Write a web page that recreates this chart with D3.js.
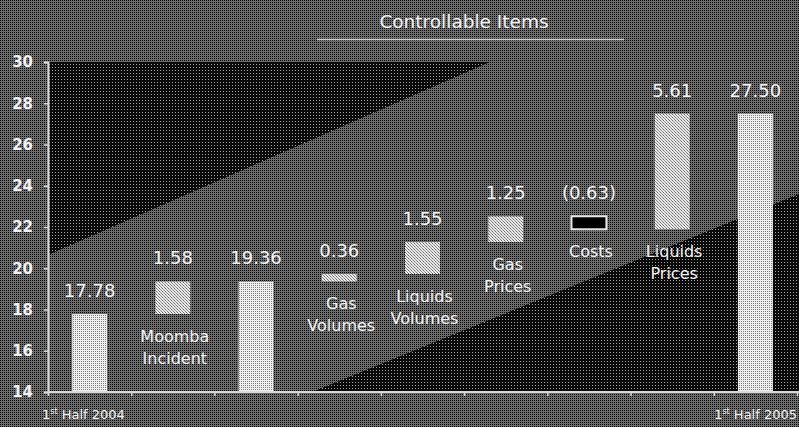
<!DOCTYPE html>
<html>
<head>
<meta charset="utf-8">
<script src="https://cdn.jsdelivr.net/npm/d3@7"></script>
<style>
  html, body { margin: 0; padding: 0; background: #505050; }
  svg { display: block; }
  text { font-family: "DejaVu Sans", Verdana, sans-serif; fill: #f2f2f2; }
</style>
</head>
<body>
<svg id="chart" width="799" height="427"></svg>
<script>
// ---- data ----
const categories = ["1st Half 2004", "Moomba Incident", "Subtotal", "Gas Volumes", "Liquids Volumes", "Gas Prices", "Costs", "Liquids Prices", "1st Half 2005"];
const values = [17.78, 1.58, 19.36, 0.36, 1.55, 1.25, -0.63, 5.61, 27.50];
const kinds = ["total", "delta", "total", "delta", "delta", "delta", "delta", "delta", "total"];
const valueLabels = ["17.78", "1.58", "19.36", "0.36", "1.55", "1.25", "(0.63)", "5.61", "27.50"];
const categoryLines = [[], ["Moomba", "Incident"], [], ["Gas", "Volumes"], ["Liquids", "Volumes"], ["Gas", "Prices"], ["Costs"], ["Liquids", "Prices"], []];
const yTicks = [14, 16, 18, 20, 22, 24, 26, 28, 30];
const title = "Controllable Items";
const startLabel = { main: "1", sup: "st", rest: " Half 2004" };
const endLabel = { main: "1", sup: "st", rest: " Half 2005" };

(function () {
// ---- waterfall computation ----
let running = 0;
const bars = values.map((v, i) => {
  let lo, hi;
  if (kinds[i] === "total") { lo = 14; hi = v; running = v; }
  else { const prev = running; running = +(running + v).toFixed(2); lo = Math.min(prev, running); hi = Math.max(prev, running); }
  return { cat: categories[i], v, lo, hi, kind: kinds[i], label: valueLabels[i], lines: categoryLines[i] };
});

const svg = d3.select("#chart");
const W = 799, H = 427;
const mLeft = 48, mRight = 797, mTop = 62, mBottom = 392;

// ---- patterns (dither look) ----
const defs = svg.append("defs");
function pat(id, size, bg, dots) {
  const p = defs.append("pattern").attr("id", id).attr("patternUnits", "userSpaceOnUse")
    .attr("width", size).attr("height", size);
  p.append("rect").attr("width", size).attr("height", size).attr("fill", bg).attr("shape-rendering", "crispEdges");
  dots.forEach(d => p.append("rect").attr("x", d[0]).attr("y", d[1]).attr("width", 1).attr("height", 1).attr("fill", d[2]).attr("shape-rendering", "crispEdges"));
}
pat("bgPat", 2, "#6c6c6c", [[0, 0, "#0a0a0a"]]);
pat("darkPat", 3, "#0a0a0a", [[1, 1, "#a0a0a0"]]);
pat("totalPat", 2, "#eeeeee", [[1, 1, "#808080"]]);
pat("deltaPat", 3, "#e6e6e6", [[0, 0, "#707070"], [1, 1, "#999"], [2, 2, "#888"]]);

svg.append("rect").attr("width", W).attr("height", H).attr("fill", "url(#bgPat)");

// ---- scales ----
const x = d3.scaleBand().domain(categories).range([mLeft, mRight]).paddingInner(0.58).paddingOuter(0.29);
const xTick = d3.scaleLinear().domain([0, categories.length]).range([mLeft, mRight]);
const y = d3.scaleLinear().domain([14, 30]).range([mBottom, mTop]);

// dark background shapes
svg.append("path").attr("fill", "url(#darkPat)")
  .attr("d", `M${mLeft},${y(30)}L490,${y(30)}L${mLeft},255Z`);
svg.append("path").attr("fill", "url(#darkPat)")
  .attr("d", `M312,${y(14)}L${W},194L${W},${y(14)}Z`);

// ---- title ----
svg.append("text").attr("x", 464).attr("y", 28).attr("text-anchor", "middle")
  .style("font-size", "18.5px").text(title);
svg.append("line").attr("x1", 317).attr("x2", 624).attr("y1", 39.5).attr("y2", 39.5)
  .attr("stroke", "#cfcfcf").attr("stroke-width", 1.5);

// ---- bars ----
const g = svg.append("g");
g.selectAll("rect.bar").data(bars).join("rect").attr("class", "bar")
  .attr("x", d => x(d.cat)).attr("width", x.bandwidth())
  .attr("y", d => y(d.hi)).attr("height", d => y(d.lo) - y(d.hi))
  .attr("fill", d => d.kind === "total" ? "url(#totalPat)" : (d.v < 0 ? "#000" : "url(#deltaPat)"))
  .attr("stroke", d => d.v < 0 ? "#e8e8e8" : "none")
  .attr("stroke-width", 2);

// value labels
g.selectAll("text.val").data(bars).join("text").attr("class", "val")
  .attr("x", d => x(d.cat) + x.bandwidth() / 2).attr("y", d => y(d.hi) - 17)
  .attr("text-anchor", "middle").style("font-size", "18px").text(d => d.label);

// category labels
bars.forEach(d => {
  d.lines.forEach((ln, j) => {
    g.append("text").attr("x", x(d.cat) + x.bandwidth() / 2 + 2).attr("y", y(d.lo) + 28 + j * 22)
      .attr("text-anchor", "middle").style("font-size", "16px").text(ln);
  });
});

// ---- axes ----
const yAxis = svg.append("g").attr("transform", `translate(${mLeft},0)`)
  .call(d3.axisLeft(y).tickValues(yTicks).tickSize(4).tickPadding(11));
yAxis.select(".domain").attr("stroke", "#d8d8d8").attr("stroke-width", 2);
yAxis.selectAll(".tick line").attr("stroke", "#d8d8d8").attr("stroke-width", 1.5);
yAxis.selectAll(".tick text").style("font-size", "15px").style("font-weight", "bold")
  .style("font-family", "'DejaVu Sans', Verdana, sans-serif").attr("fill", "#f4f4f4");

const xAxis = svg.append("g").attr("transform", `translate(0,${mBottom})`)
  .call(d3.axisBottom(xTick).tickValues(d3.range(categories.length + 1)).tickSize(4).tickFormat(""));
xAxis.select(".domain").attr("stroke", "#d8d8d8").attr("stroke-width", 2).attr("d", `M${mLeft},0H${W}`);
xAxis.selectAll(".tick line").attr("stroke", "#d8d8d8").attr("stroke-width", 1.5);

// period labels
function periodLabel(lbl, xPos, anchor) {
  const t = svg.append("text").attr("x", xPos).attr("y", 419).attr("text-anchor", anchor).style("font-size", "13px");
  t.append("tspan").text(lbl.main);
  t.append("tspan").attr("dy", -5).style("font-size", "8px").text(lbl.sup);
  t.append("tspan").attr("dy", 5).text(lbl.rest);
}
periodLabel(startLabel, 42, "start");
periodLabel(endLabel, 797, "end");
})();
</script>
</body>
</html>
